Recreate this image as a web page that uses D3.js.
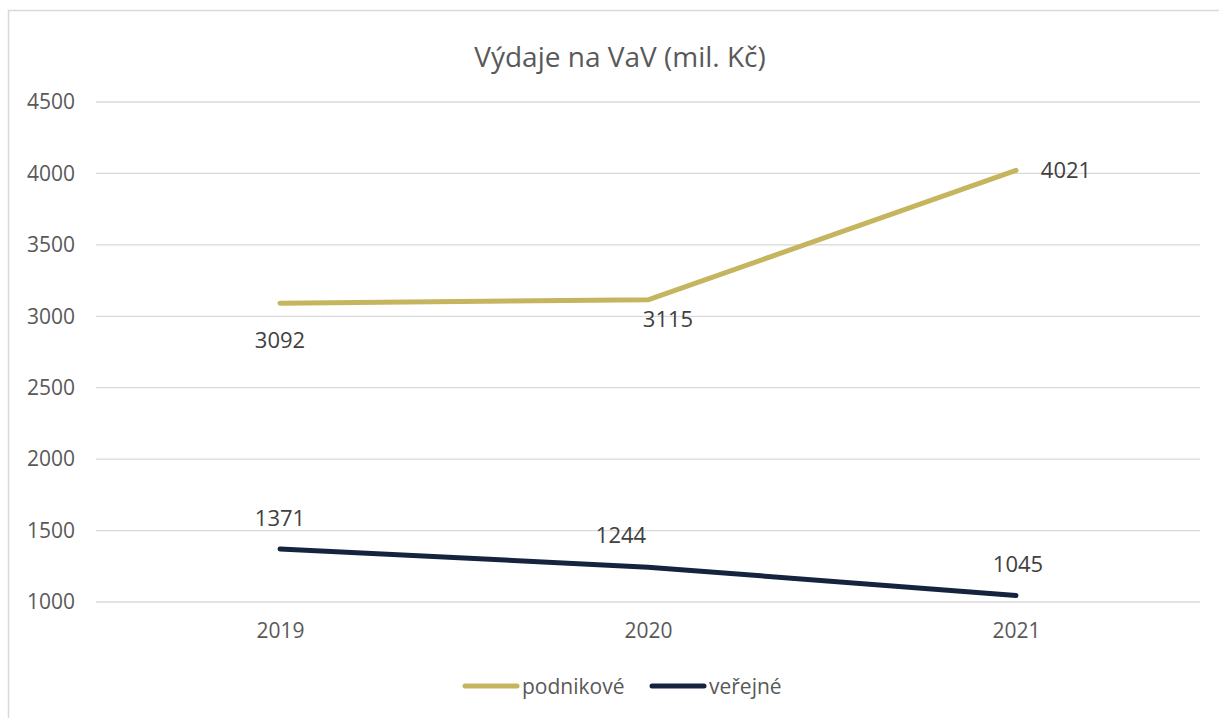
<!DOCTYPE html>
<html>
<head>
<meta charset="utf-8">
<script src="https://cdn.jsdelivr.net/npm/d3@7"></script>
<style>
  body { margin: 0; background: #fff; }
  svg { font-family: "Open Sans", sans-serif; }
</style>
</head>
<body>
<div id="chart"></div>
<script>
// data
const years = ['2019', '2020', '2021'];
const podnikove = [3092, 3115, 4021];
const verejne = [1371, 1244, 1045];
const yTicks = [1000, 1500, 2000, 2500, 3000, 3500, 4000, 4500];

const W = 1219, H = 718;
const margin = {top: 102, right: 19, bottom: 116, left: 96};
const innerW = W - margin.left - margin.right;
const innerH = H - margin.top - margin.bottom;

const svg = d3.select('#chart').append('svg')
    .attr('width', W)
    .attr('height', H);

// outer frame
svg.append('rect')
    .attr('x', 8.5).attr('y', 10.5)
    .attr('width', W).attr('height', H)
    .attr('fill', 'none')
    .attr('stroke', '#d9d9d9')
    .attr('stroke-width', 1.5);

const g = svg.append('g')
    .attr('transform', `translate(${margin.left},${margin.top})`);

const x = d3.scalePoint()
    .domain(years)
    .range([0, innerW])
    .padding(0.5);

const y = d3.scaleLinear()
    .domain([1000, 4500])
    .range([innerH, 0]);

// gridlines
g.selectAll('line.grid')
    .data(yTicks)
    .enter()
    .append('line')
    .attr('class', 'grid')
    .attr('x1', 0).attr('x2', innerW)
    .attr('y1', d => y(d)).attr('y2', d => y(d))
    .attr('stroke', '#d9d9d9')
    .attr('stroke-width', 1.3);

// y axis labels
const yAxis = g.append('g')
    .call(d3.axisLeft(y).tickValues(yTicks).tickFormat(d3.format('d')).tickSize(0).tickPadding(21));
yAxis.select('.domain').remove();
yAxis.selectAll('text')
    .style('font-size', '21px')
    .style('font-family', '"Open Sans", sans-serif')
    .attr('fill', '#595959');

// x axis labels
const xAxis = g.append('g')
    .attr('transform', `translate(0,${innerH})`)
    .call(d3.axisBottom(x).tickSize(0).tickPadding(21));
xAxis.select('.domain').remove();
xAxis.selectAll('text')
    .style('font-size', '21px')
    .style('font-family', '"Open Sans", sans-serif')
    .attr('fill', '#595959');

const series = [
    {name: 'podnikové', values: podnikove, color: '#c5b55e'},
    {name: 'veřejné', values: verejne, color: '#14243f'}
];

const line = d3.line()
    .x((d, i) => x(years[i]))
    .y(d => y(d));

series.forEach(s => {
    g.append('path')
        .datum(s.values)
        .attr('d', line)
        .attr('fill', 'none')
        .attr('stroke', s.color)
        .attr('stroke-width', 5)
        .attr('stroke-linecap', 'round')
        .attr('stroke-linejoin', 'round');
});

// data label placement (dx, dy from point)
const labelPos = [
    [[0, 45], [20, 27], [50, 8]],
    [[0, -23], [-27, -24], [2, -24]]
];

series.forEach((s, si) => {
    g.selectAll(null)
        .data(s.values)
        .enter()
        .append('text')
        .attr('x', (d, i) => x(years[i]) + labelPos[si][i][0])
        .attr('y', (d, i) => y(d) + labelPos[si][i][1])
        .attr('text-anchor', 'middle')
        .style('font-size', '22px')
        .attr('fill', '#404040')
        .text(d => d);
});

// title
svg.append('text')
    .attr('x', 620)
    .attr('y', 67)
    .attr('text-anchor', 'middle')
    .style('font-size', '28px')
    .attr('fill', '#595959')
    .text('Výdaje na VaV (mil. Kč)');

// legend
const legendItems = [
    {name: 'podnikové', color: '#c5b55e', x: 465},
    {name: 'veřejné', color: '#14243f', x: 652}
];
const legend = svg.append('g').attr('transform', 'translate(0,686)');
legend.selectAll('line')
    .data(legendItems)
    .enter()
    .append('line')
    .attr('x1', d => d.x).attr('x2', d => d.x + 52)
    .attr('y1', 0).attr('y2', 0)
    .attr('stroke', d => d.color)
    .attr('stroke-width', 5)
    .attr('stroke-linecap', 'round');
legend.selectAll('text')
    .data(legendItems)
    .enter()
    .append('text')
    .attr('x', d => d.x + 57)
    .attr('y', 8)
    .style('font-size', '21px')
    .attr('fill', '#595959')
    .text(d => d.name);
</script>
</body>
</html>
